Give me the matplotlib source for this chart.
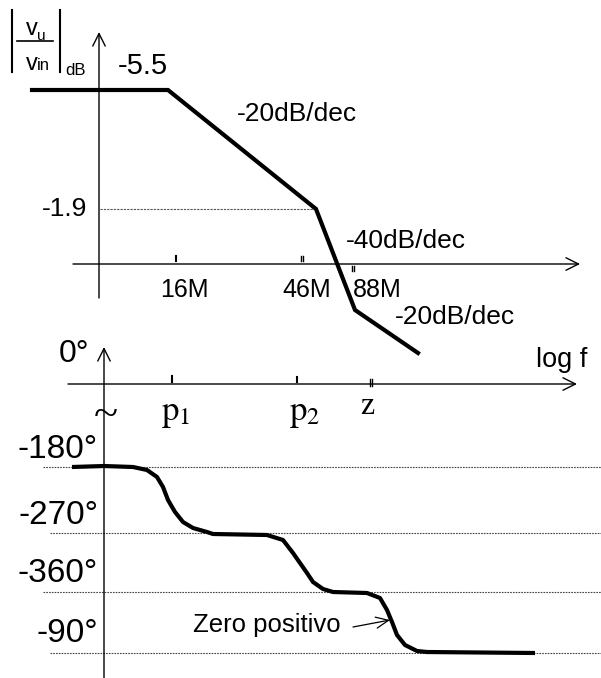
import matplotlib.pyplot as plt

# Canvas is laid out in pixel-like units (601 x 678), y grows downward

# Magnitude asymptotes (break points of the sketch)
mag_x = [32, 168, 316, 355, 418]
mag_y = [90, 90, 209, 310, 353]
mag_labels = ["-5.5", "-1.9"]
freq_labels = ["16M", "46M", "88M"]
freq_tick_x = [176, 302, 353]
slope_labels = ["-20dB/dec", "-40dB/dec", "-20dB/dec"]

# Phase curve
phase_x = [72, 104, 133, 147, 157, 163, 168, 175, 183, 193, 207, 213, 267, 283,
           293, 300, 307, 313, 323, 333, 367, 380, 387, 392, 397, 405, 417, 427, 535]
phase_y = [467, 466, 467, 470, 477, 487, 500, 512, 522, 528, 532, 534, 535, 540,
           553, 563, 573, 582, 589, 592, 593, 598, 610, 622, 635, 645, 651, 652, 653]
phase_labels = ["-180°", "-270°", "-360°", "-90°"]
phase_level_y = [467, 533, 592, 653]
phase_level_x0 = [43, 50, 43, 50]
phase_label_y = [450, 516, 573, 634]
pole_labels = [r"$\mathrm{p}_1$", r"$\mathrm{p}_2$", "z"]
pole_tick_x = [172, 297, 371]

sans = "Liberation Sans"
serif = "Liberation Serif"

fig = plt.figure(figsize=(6.01, 6.78), dpi=100)
ax = fig.add_axes([0, 0, 1, 1])
ax.set_xlim(0, 601)
ax.set_ylim(678, 0)
ax.axis("off")

def arrow(x0, y0, x1, y1):
    ax.annotate("", xy=(x1, y1), xytext=(x0, y0),
                arrowprops=dict(arrowstyle="->,head_length=0.9,head_width=0.45",
                                lw=1, color="black", shrinkA=0, shrinkB=0,
                                mutation_scale=10))

def double_tick(x, y0, y1):
    ax.plot([x - 1, x - 1], [y0, y1], color="black", lw=1)
    ax.plot([x + 1, x + 1], [y0, y1], color="black", lw=1)

# ---- magnitude plot ----
arrow(99, 298, 99, 32)
arrow(73, 264, 580, 264)
ax.plot([100, mag_x[2]], [mag_y[2], mag_y[2]], color="#555555", lw=0.8, ls=(0, (2, 1)))
ax.plot(mag_x, mag_y, color="black", lw=3, solid_joinstyle="miter")

ax.plot([freq_tick_x[0]] * 2, [256, 261], color="black", lw=1.5)
double_tick(freq_tick_x[1], 256, 261)
double_tick(freq_tick_x[2], 266, 271)

ax.text(143, 66, mag_labels[0], fontsize=21, family=sans, ha="center", va="center")
ax.text(65, 209, mag_labels[1], fontsize=19, family=sans, ha="center", va="center")
for x, lab in zip([184, 307, 377], freq_labels):
    ax.text(x, 290, lab, fontsize=18, family=sans, ha="center", va="center")
ax.text(237, 114, slope_labels[0], fontsize=19, family=sans, ha="left", va="center")
ax.text(346, 241, slope_labels[1], fontsize=19, family=sans, ha="left", va="center")
ax.text(395, 317, slope_labels[2], fontsize=19, family=sans, ha="left", va="center")

# y label |vu/vin|dB
ax.plot([12, 12], [10, 72], color="black", lw=1.5)
ax.plot([60, 60], [10, 72], color="black", lw=1.5)
ax.plot([17, 53], [41, 41], color="black", lw=1.2)
ax.text(26, 35, "v", fontsize=17, family=sans, ha="left", va="baseline")
ax.text(37, 40, "u", fontsize=11, family=sans, ha="left", va="baseline")
ax.text(26, 70, "v", fontsize=17, family=sans, ha="left", va="baseline")
ax.text(37, 70, "in", fontsize=12, family=sans, ha="left", va="baseline")
ax.text(65, 75, "dB", fontsize=12, family=sans, ha="left", va="baseline")

# ---- phase plot ----
arrow(104, 678, 104, 347)
arrow(68, 384, 577, 384)
ax.text(74, 354, "0°", fontsize=23, family=sans, ha="center", va="center")
ax.text(562, 360, "log f", fontsize=19.5, family=sans, ha="center", va="center")

ax.plot([pole_tick_x[0]] * 2, [376, 382], color="black", lw=1.5)
ax.plot([pole_tick_x[1]] * 2, [377, 382], color="black", lw=1.5)
double_tick(pole_tick_x[2], 379, 386)

ax.text(176, 413, pole_labels[0], fontsize=25, family=serif, ha="center", va="center",
        math_fontfamily="stix")
ax.text(305, 413, pole_labels[1], fontsize=25, family=serif, ha="center", va="center",
        math_fontfamily="stix")
ax.text(367, 407, pole_labels[2], fontsize=23, family=serif, ha="center", va="center")
ax.text(106, 416, "~", fontsize=32, family=serif, ha="center", va="center")

for y0, x0, yl, lab in zip(phase_level_y, phase_level_x0, phase_label_y, phase_labels):
    ax.plot([x0, 601], [y0, y0], color="#444444", lw=0.8, ls=(0, (1.5, 1)))
    ax.text(98, yl, lab, fontsize=24, family=sans, ha="right", va="center")

ax.plot(phase_x, phase_y, color="black", lw=3, solid_capstyle="butt")

ax.text(193, 625, "Zero positivo", fontsize=18.5, family=sans, ha="left", va="center")
ax.annotate("", xy=(390, 620), xytext=(353, 627),
            arrowprops=dict(arrowstyle="->,head_length=0.9,head_width=0.4",
                            lw=0.9, color="black", shrinkA=0, shrinkB=0,
                            mutation_scale=10))

fig.savefig("out.png", dpi=100, facecolor="white")
